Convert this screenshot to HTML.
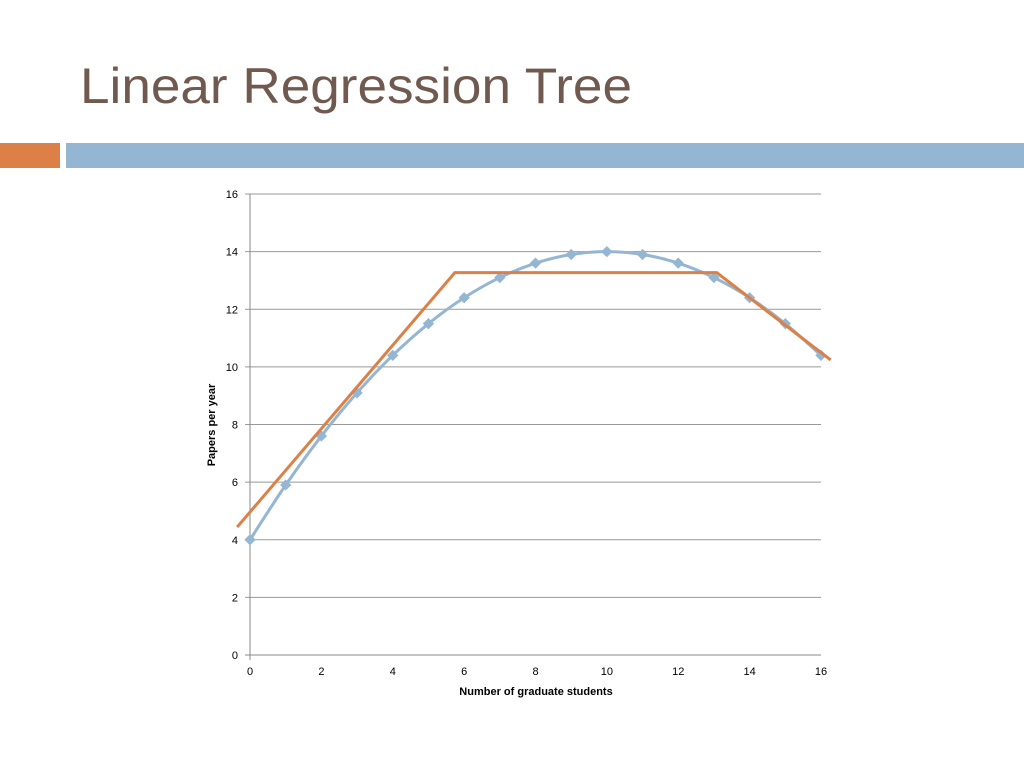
<!DOCTYPE html>
<html><head><meta charset="utf-8"><style>
body{margin:0;width:1024px;height:768px;background:#fff;overflow:hidden;font-family:"Liberation Sans",sans-serif}
</style></head><body>
<svg width="1024" height="768">
<text x="80" y="103" font-size="50" fill="#705a50" textLength="552" lengthAdjust="spacingAndGlyphs">Linear Regression Tree</text>
<rect x="0" y="143" width="60" height="25" fill="#dd8047"/>
<rect x="66" y="143" width="958" height="25" fill="#94b6d2"/>
<g id="chart"></g>
</svg>
<script>
const xTicks=[0,2,4,6,8,10,12,14,16];
const yTicks=[0,2,4,6,8,10,12,14,16];
const blueX=[0,1,2,3,4,5,6,7,8,9,10,11,12,13,14,15,16];
const blueY=[4,5.9,7.6,9.1,10.4,11.5,12.4,13.1,13.6,13.9,14,13.9,13.6,13.1,12.4,11.5,10.4];
const treeX=[-0.36,5.74,13.08,16.27];
const treeY=[4.44,13.27,13.27,10.24];
const NS="http://www.w3.org/2000/svg";
const g=document.getElementById('chart');
const sx=v=>250+v*(571/16), sy=v=>655-v*(461/16);
function mk(t,a){const e=document.createElementNS(NS,t);for(const k in a)e.setAttribute(k,a[k]);g.appendChild(e);return e;}
yTicks.forEach(v=>{
 const l=mk('line',{x1:245,x2:821,y1:sy(v),y2:sy(v),stroke:v===0?'#888':'#999','stroke-width':1});
 
 
 const t=mk('text',{x:238,y:sy(v)+4,'font-size':11,'text-anchor':'end',fill:'#000'});t.textContent=v;
 
 
});
const ax=mk('line',{x1:250,x2:250,y1:194,y2:660,stroke:'#888'});


xTicks.forEach(v=>{
 const t=mk('text',{x:sx(v),y:675,'font-size':11,'text-anchor':'middle',fill:'#000'});t.textContent=v;
 
 
});
const xt=mk('text',{x:536,y:695,'font-size':11,'font-weight':'bold','text-anchor':'middle'});xt.textContent='Number of graduate students';


const yt=mk('text',{x:0,y:0,'font-size':11,'font-weight':'bold','text-anchor':'middle',transform:'translate(215,425) rotate(-90)'});yt.textContent='Papers per year';


// smooth blue curve (Catmull-Rom)
const P=blueX.map((x,i)=>[sx(x),sy(blueY[i])]);
let d='M'+P[0][0]+','+P[0][1];
for(let i=0;i<P.length-1;i++){const p0=P[i-1]||P[i],p1=P[i],p2=P[i+1],p3=P[i+2]||P[i+1];
 d+=` C${p1[0]+(p2[0]-p0[0])/6},${p1[1]+(p2[1]-p0[1])/6} ${p2[0]-(p3[0]-p1[0])/6},${p2[1]-(p3[1]-p1[1])/6} ${p2[0]},${p2[1]}`;}
const bl=mk('path',{d:d,fill:'none',stroke:'#94b6d2','stroke-width':3});


P.forEach(p=>{const m=mk('rect',{x:p[0]-4,y:p[1]-4,width:8,height:8,fill:'#94b6d2',transform:`rotate(45 ${p[0]} ${p[1]})`});
 
 });
const tr=mk('polyline',{points:treeX.map((x,i)=>sx(x)+','+sy(treeY[i])).join(' '),fill:'none',stroke:'#dd8047','stroke-width':3});


</script>
</body></html>
